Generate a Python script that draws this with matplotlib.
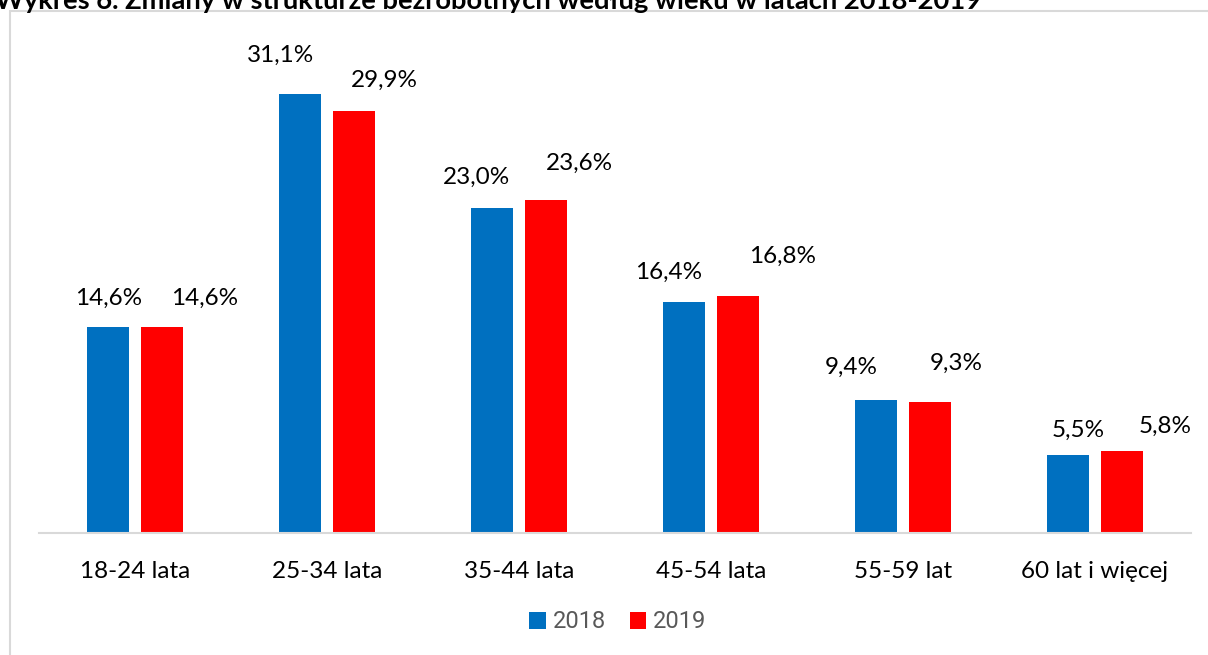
import matplotlib.pyplot as plt
from matplotlib.patches import Rectangle
import numpy as np

categories = ['18-24 lata', '25-34 lata', '35-44 lata', '45-54 lata', '55-59 lat', '60 lat i więcej']
values_2018 = [14.6, 31.1, 23.0, 16.4, 9.4, 5.5]
values_2019 = [14.6, 29.9, 23.6, 16.8, 9.3, 5.8]
series_names = ['2018', '2019']
title = 'Wykres 6. Zmiany w strukturze bezrobotnych według wieku w latach 2018-2019'

# label placement offsets in pixels (dx, dy) -- labels were hand-placed in the original
offsets_2018 = [(0, 29), (-20, 39), (-16, 31), (-16, 29), (-25, 33), (10, 25)]
offsets_2019 = [(43, 29), (30, 31), (34, 37), (45, 40), (26, 38), (43, 25)]

BLUE = '#0070C0'
RED = '#FF0000'
GRID = '#D9D9D9'

plt.rcParams['font.family'] = ['Lato', 'DejaVu Sans']

W, H = 1208, 655
fig = plt.figure(figsize=(W / 100, H / 100), dpi=100)

# outer chart frame (runs off the right/bottom edge like the screenshot)
fig.patches.append(Rectangle((10 / W, -0.05), 1.2, (H - 10.5) / H + 0.05, transform=fig.transFigure,
                             fill=False, edgecolor=GRID, linewidth=1.5))

# title, cut in half by the top edge as in the source screenshot
fig.text(-0.004, 1.0 - 1.0 / H, title, ha='left', va='center', fontsize=19.7, fontweight='bold', color='black')

ax = fig.add_axes([39 / W, (H - 533) / H, 1152 / W, 494 / H])
x = np.arange(len(categories))
bw = 0.219
b1 = ax.bar(x - 0.14, values_2018, bw, color=BLUE, label=series_names[0])
b2 = ax.bar(x + 0.14, values_2019, bw, color=RED, label=series_names[1])

ax.set_xlim(-0.5, len(categories) - 0.5)
ax.set_ylim(0, 35)
for s in ['top', 'right', 'left']:
    ax.spines[s].set_visible(False)
ax.spines['bottom'].set_color(GRID)
ax.spines['bottom'].set_linewidth(1.5)
ax.set_yticks([])
ax.set_xticks(x)
ax.set_xticklabels(categories, fontsize=17.5)
ax.tick_params(axis='x', length=0, pad=20)

for bars, offs in [(b1, offsets_2018), (b2, offsets_2019)]:
    for b, (dx, dy) in zip(bars, offs):
        v = b.get_height()
        ax.annotate(f'{v:.1f}%'.replace('.', ','), (b.get_x() + b.get_width() / 2, v),
                    xytext=(dx * 0.72, dy * 0.72), textcoords='offset points',
                    ha='center', va='center', fontsize=17.5)

leg = fig.legend(loc='center', bbox_to_anchor=(618 / W, 1 - 622 / H), ncol=2, frameon=False,
                 handlelength=0.7, handleheight=0.7, handletextpad=0.3, columnspacing=1.0,
                 prop={'family': ['Roboto', 'DejaVu Sans'], 'size': 17})
for t in leg.get_texts():
    t.set_color('#595959')

fig.savefig('out.png', dpi=100)
